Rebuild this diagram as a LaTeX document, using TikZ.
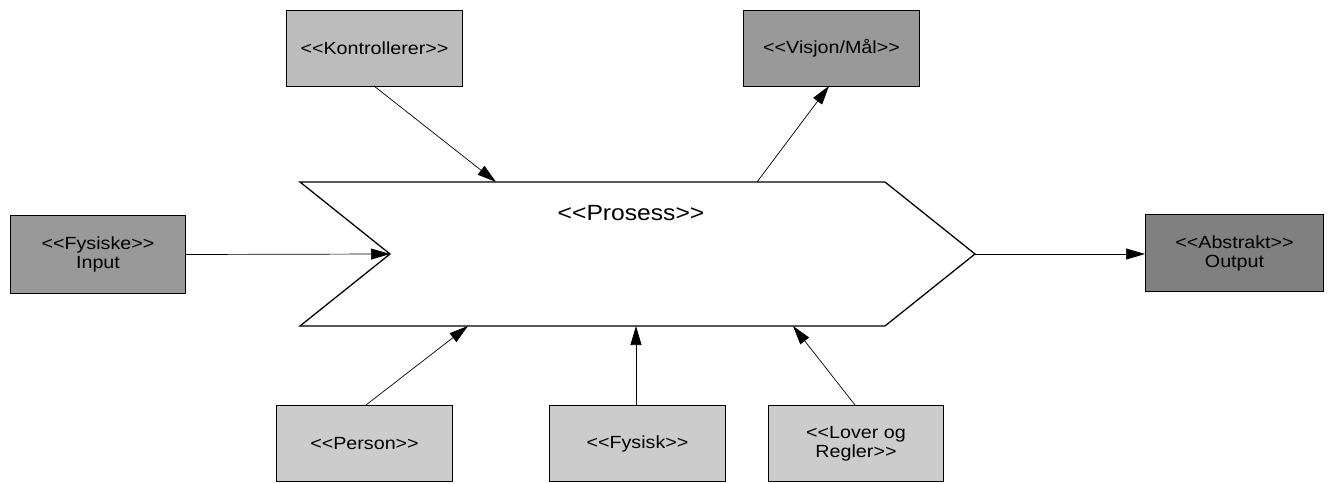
\documentclass[tikz,border=0pt]{standalone}
\usepackage{fontspec}
\setmainfont{Liberation Sans}[FakeStretch=1.12]
\usetikzlibrary{arrows.meta}
\definecolor{boxA}{RGB}{204,204,204}
\definecolor{boxB}{RGB}{188,188,188}
\definecolor{boxC}{RGB}{153,153,153}
\definecolor{boxD}{RGB}{128,128,128}
\tikzset{
  ubox/.style={draw=black, line width=1pt, minimum width=176pt, minimum height=76pt,
    inner sep=0pt, align=center, font=\fontsize{17.6}{19}\selectfont, anchor=north west},
  conn/.style={draw=black, line width=0.7pt, -{Triangle[length=19pt,width=11pt]}},
  proc/.style={draw=black, line width=1.3pt, fill=white}
}
\begin{document}
\begin{tikzpicture}[x=1pt,y=-1pt]
\useasboundingbox (0,0) rectangle (1329,484);
% process shape
\coordinate (tl) at (300,182);
\coordinate (notch) at (390,254);
\coordinate (bl) at (300,326);
\coordinate (tr) at (885,182);
\coordinate (tip) at (975,254);
\coordinate (br) at (885,326);
\draw[proc] (tl) -- (tr) -- (tip) -- (br) -- (bl) -- (notch) -- cycle;
\node[font=\fontsize{22}{24}\selectfont] (prosess) at (631,213) {<{}<Prosess>{}>};
% attachment points
\coordinate (pKon) at (496,182);
\coordinate (pVis) at (757,182);
\coordinate (pPer) at (468,326);
\coordinate (pFys) at (636,326);
\coordinate (pLov) at (793,326);
% boxes
\node[ubox, fill=boxB] (kon) at (286,10) {<{}<Kontrollerer>{}>};
\node[ubox, fill=boxC] (vis) at (743,10) {<{}<Visjon/Mål>{}>};
\node[ubox, fill=boxC, minimum width=175pt, minimum height=78pt] (inp) at (10,215) {<{}<Fysiske>{}>\\Input};
\node[ubox, fill=boxD, minimum width=178pt, minimum height=77pt] (out) at (1145,214) {<{}<Abstrakt>{}>\\Output};
\node[ubox, fill=boxA] (per) at (276,405) {<{}<Person>{}>};
\node[ubox, fill=boxA] (fys) at (549,405) {<{}<Fysisk>{}>};
\node[ubox, fill=boxA, minimum width=175pt] (lov) at (768,405) {<{}<Lover og\\Regler>{}>};
% connector end points on the boxes
\coordinate (kS) at (374,86);
\coordinate (vS) at (829,86);
\coordinate (perN) at (366,405);
\coordinate (lovN) at (855,405);
% connectors
\draw[conn] (kS) -- (pKon);
\draw[conn] (pVis) -- (vS);
\draw[conn] (inp.east) -- (notch);
\draw[conn] (tip) -- (tip -| out.west);
\draw[conn] (perN) -- (pPer);
\draw[conn] (fys.north -| pFys) -- (pFys);
\draw[conn] (lovN) -- (pLov);
\end{tikzpicture}
\end{document}
